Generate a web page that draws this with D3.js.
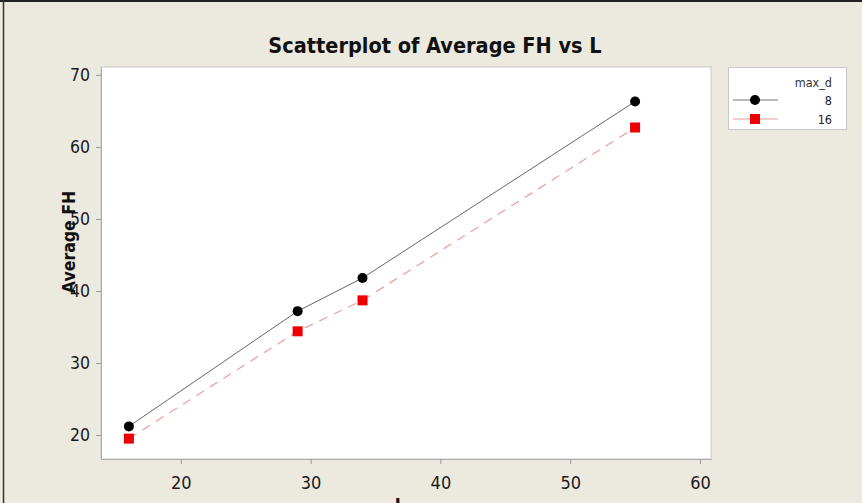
<!DOCTYPE html>
<html><head><meta charset="utf-8">
<script src="https://cdn.jsdelivr.net/npm/d3@7"></script>
<style>body{margin:0;background:#ece9df;}svg{display:block;}</style>
</head><body>
<svg id="c" width="862" height="503"></svg>
<script>
const xValues = [16, 29, 34, 55];
const series8 = [21.2, 37.2, 41.8, 66.3];
const series16 = [19.5, 34.4, 38.7, 62.7];
const xTicks = [20, 30, 40, 50, 60];
const yTicks = [20, 30, 40, 50, 60, 70];
const seriesNames = ["8", "16"];

const svg = d3.select("#c");
const W = 862, H = 503;
svg.append("rect").attr("x",0).attr("y",0).attr("width",W).attr("height",H).attr("fill","#ece9df");
svg.append("line").attr("x1",0).attr("x2",W).attr("y1",1).attr("y2",1).attr("stroke","#222").attr("stroke-width",2);
svg.append("line").attr("x1",3.5).attr("x2",3.5).attr("y1",0).attr("y2",H).attr("stroke","#333").attr("stroke-width",1.5);

const L = 101, R = 711, T = 67, B = 459;
const x = d3.scaleLinear().domain([13.85, 60.85]).range([L, R]);
const y = d3.scaleLinear().domain([16.67, 71.1]).range([B, T]);

svg.append("rect").attr("x",L).attr("y",T).attr("width",R-L).attr("height",B-T)
  .attr("fill","#fff").attr("stroke","#c8c8c8").attr("stroke-width",1);

const cond = "'DejaVu Sans Condensed','DejaVu Sans',sans-serif";
const font = "'Liberation Sans', Arial, sans-serif";
const xAxis = svg.append("g").attr("transform",`translate(0,${B})`)
  .call(d3.axisBottom(x).tickValues(xTicks).tickSize(5).tickSizeOuter(0).tickPadding(12).tickFormat(d3.format("d")));
const yAxis = svg.append("g").attr("transform",`translate(${L},0)`)
  .call(d3.axisLeft(y).tickValues(yTicks).tickSize(5).tickSizeOuter(0).tickPadding(6).tickFormat(d3.format("d")));
[xAxis, yAxis].forEach(g => {
  g.select(".domain").attr("stroke","#aaa");
  g.selectAll(".tick line").attr("stroke","#999");
  g.selectAll(".tick text").attr("fill","#1a1a1a").style("font-family",cond);
});
xAxis.selectAll(".tick text").style("font-size","18px");
yAxis.selectAll(".tick text").style("font-size","17.5px");

svg.append("text").attr("x",435).attr("y",53).attr("text-anchor","middle")
  .style("font-family",cond).style("font-weight","bold").style("font-size","21.5px")
  .attr("fill","#111").text("Scatterplot of Average FH vs L");
svg.append("text").attr("transform","translate(75,242) rotate(-90)").attr("text-anchor","middle")
  .style("font-family",cond).style("font-weight","bold").style("font-size","17.5px")
  .attr("fill","#111").text("Average FH");
svg.append("text").attr("x",(L+R)/2 - 6).attr("y",511).attr("text-anchor","middle")
  .style("font-family",cond).style("font-weight","bold").style("font-size","18px")
  .attr("fill","#111").text("L");

const line = d3.line().x(d => x(d[0])).y(d => y(d[1]));
const d8 = xValues.map((v,i) => [v, series8[i]]);
const d16 = xValues.map((v,i) => [v, series16[i]]);

svg.append("path").datum(d16).attr("d",line).attr("fill","none")
  .attr("stroke","#f09a9a").attr("stroke-width",1.2).attr("stroke-dasharray","9,7");
svg.append("path").datum(d8).attr("d",line).attr("fill","none")
  .attr("stroke","#666").attr("stroke-width",1);

svg.selectAll(".sq").data(d16).enter().append("rect")
  .attr("x",d => x(d[0])-5).attr("y",d => y(d[1])-5).attr("width",10).attr("height",10).attr("fill","#ee0000");
svg.selectAll(".ci").data(d8).enter().append("circle")
  .attr("cx",d => x(d[0])).attr("cy",d => y(d[1])).attr("r",5).attr("fill","#000");

const lg = svg.append("g");
lg.append("rect").attr("x",728.5).attr("y",67.5).attr("width",118).attr("height",62)
  .attr("fill","#fff").attr("stroke","#c8c8c8");
lg.append("text").attr("x",832).attr("y",87).attr("text-anchor","end")
  .style("font-family",cond).style("font-size","12.5px").attr("fill","#333").text("max_d");
const rows = [{y:100, c:"#777", m:"circle"}, {y:119, c:"#f09a9a", m:"square"}];
rows.forEach((r,i) => {
  lg.append("line").attr("x1",733).attr("x2",778).attr("y1",r.y).attr("y2",r.y).attr("stroke",r.c).attr("stroke-width",1);
  if (r.m === "circle") lg.append("circle").attr("cx",755).attr("cy",r.y).attr("r",5).attr("fill","#000");
  else lg.append("rect").attr("x",750).attr("y",r.y-5).attr("width",10).attr("height",10).attr("fill","#ee0000");
  lg.append("text").attr("x",832).attr("y",r.y+5).attr("text-anchor","end")
    .style("font-family",cond).style("font-size","12.5px").attr("fill","#222").text(seriesNames[i]);
});
</script>
</body></html>
